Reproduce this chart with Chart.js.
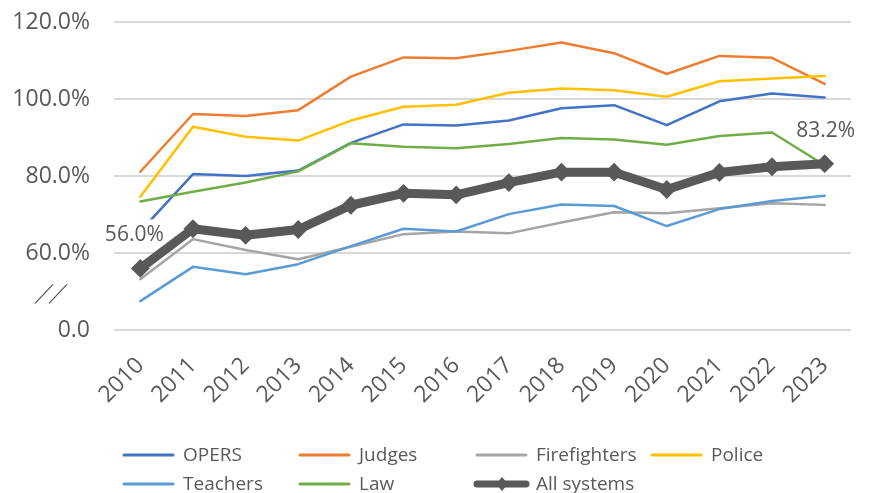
<!DOCTYPE html>
<html>
<head>
<meta charset="utf-8">
<script src="https://cdn.jsdelivr.net/npm/chart.js@4.4.1/dist/chart.umd.min.js"></script>
<style>
html, body { margin: 0; padding: 0; background: #fff; }
</style>
</head>
<body>
<canvas id="myChart" width="869" height="493"></canvas>
<script>
const years = ["2010", "2011", "2012", "2013", "2014", "2015", "2016",
    "2017", "2018", "2019", "2020", "2021", "2022", "2023"];

const opers = [65.6, 80.5, 80.0, 81.4, 88.6, 93.4, 93.1, 94.4, 97.6, 98.4, 93.2, 99.4, 101.4, 100.4];
const judges = [81.1, 96.1, 95.6, 97.1, 105.8, 110.8, 110.6, 112.5, 114.7, 111.9, 106.5, 111.2, 110.7, 103.9];
const firefighters = [53.2, 63.6, 60.8, 58.4, 61.6, 64.9, 65.6, 65.1, 67.9, 70.6, 70.3, 71.6, 72.9, 72.5];
const police = [74.6, 92.8, 90.2, 89.2, 94.4, 98.0, 98.5, 101.6, 102.7, 102.3, 100.6, 104.6, 105.3, 106.0];
const teachers = [47.5, 56.4, 54.5, 57.1, 61.8, 66.3, 65.6, 70.1, 72.6, 72.2, 67.0, 71.4, 73.5, 74.9];
const law = [73.4, 75.9, 78.3, 81.2, 88.5, 87.6, 87.2, 88.3, 89.9, 89.5, 88.1, 90.4, 91.3, 82.8];
const allSystems = [56.0, 66.3, 64.6, 66.1, 72.4, 75.5, 75.1, 78.3, 81.0, 81.0, 76.5, 80.9, 82.4, 83.2];

// the axis is broken: the bottom gridline (40%) is labelled 0.0
const yTicks = [40, 60, 80, 100, 120];
const yTickText = ["0.0", "60.0%", "80.0%", "100.0%", "120.0%"];

const FONT = "'Open Sans', sans-serif";
const TEXT = "#595959";

function line(label, values, color) {
    return {
        label: label,
        data: values,
        borderColor: color,
        backgroundColor: color,
        borderWidth: 2.5,
        pointRadius: 0,
        tension: 0,
        borderJoinStyle: "round",
        borderCapStyle: "round",
    };
}

const datasets = [
    line("OPERS", opers, "#4472C4"),
    line("Judges", judges, "#ED7D31"),
    line("Firefighters", firefighters, "#A5A5A5"),
    line("Police", police, "#FFC000"),
    line("Teachers", teachers, "#5B9BD5"),
    line("Law", law, "#70AD47"),
    {
        label: "All systems",
        data: allSystems,
        borderColor: "#595959",
        backgroundColor: "#595959",
        borderWidth: 9,
        pointStyle: "rectRot",
        pointRadius: 8,
        pointBorderWidth: 2,
        tension: 0,
        borderJoinStyle: "round",
    },
];
// later series on top, like the spreadsheet
datasets.forEach((d, i) => (d.order = -i));

const ALL = 6;
const labelIdx = [0, allSystems.length - 1];
const labelShift = [-6, 1];

function labelBox(chart, k) {
    const pt = chart.getDatasetMeta(ALL).data[labelIdx[k]];
    return { x: pt.x + labelShift[k], y: pt.y - 33 };
}

// value labels for first/last "All systems" points
const endLabels = {
    id: "endLabels",
    beforeDatasetDraw(chart, args) {
        if (args.index !== ALL) return;
        const ctx = chart.ctx;
        ctx.save();
        ctx.font = "21px " + FONT;
        labelIdx.forEach((i, k) => {
            const p = labelBox(chart, k);
            const w = ctx.measureText(allSystems[i].toFixed(1) + "%").width;
            ctx.fillStyle = "#fff";
            ctx.fillRect(p.x - w / 2 - 2, p.y - 16, w + 4, 30);
        });
        ctx.restore();
    },
    afterDatasetsDraw(chart) {
        const ctx = chart.ctx;
        ctx.save();
        ctx.font = "21px " + FONT;
        ctx.fillStyle = TEXT;
        ctx.textAlign = "center";
        ctx.textBaseline = "middle";
        labelIdx.forEach((i, k) => {
            const p = labelBox(chart, k);
            ctx.fillText(allSystems[i].toFixed(1) + "%", p.x, p.y);
        });
        ctx.restore();
    },
};

// axis break "//" and the grid-style legend
const extras = {
    id: "extras",
    afterDraw(chart) {
        const ctx = chart.ctx;
        const left = chart.chartArea.left;
        const yb = chart.scales.y.getPixelForValue(49.5);
        ctx.save();
        ctx.strokeStyle = TEXT;
        ctx.lineWidth = 1.3;
        [-79, -65].forEach((dx) => {
            ctx.beginPath();
            ctx.moveTo(left + dx, yb + 10);
            ctx.lineTo(left + dx + 18, yb - 9);
            ctx.stroke();
        });

        const cols = [124, 300, 477, 652];
        const rows = [455, 484];
        ctx.font = "19px " + FONT;
        ctx.textBaseline = "middle";
        chart.data.datasets.forEach((ds, i) => {
            const x = cols[i % 4];
            const y = rows[Math.floor(i / 4)];
            ctx.strokeStyle = ds.borderColor;
            ctx.lineWidth = i === ALL ? 7 : 3;
            ctx.lineCap = "round";
            ctx.beginPath();
            ctx.moveTo(x, y);
            ctx.lineTo(x + 49, y);
            ctx.stroke();
            if (i === ALL) {
                ctx.fillStyle = ds.borderColor;
                ctx.beginPath();
                ctx.moveTo(x + 25, y - 7);
                ctx.lineTo(x + 31, y);
                ctx.lineTo(x + 25, y + 7);
                ctx.lineTo(x + 19, y);
                ctx.closePath();
                ctx.fill();
            }
            ctx.fillStyle = TEXT;
            ctx.fillText(ds.label, x + 59, y + 1);
        });
        ctx.restore();
    },
};

new Chart(document.getElementById("myChart").getContext("2d"), {
    type: "line",
    data: { labels: years, datasets: datasets },
    options: {
        responsive: false,
        animation: false,
        layout: { padding: { top: 22, right: 18, left: 0, bottom: 0 } },
        plugins: {
            legend: { display: false },
            tooltip: { enabled: false },
        },
        scales: {
            x: {
                offset: true,
                grid: { display: false },
                border: { display: false },
                ticks: {
                    color: TEXT,
                    font: { family: FONT, size: 23 },
                    minRotation: 45,
                    maxRotation: 45,
                    padding: 14,
                    autoSkip: false,
                },
                afterFit: (s) => {
                    s.height = 163;
                    s.paddingLeft = 0;
                    s.paddingRight = 0;
                },
            },
            y: {
                min: 40,
                max: 120,
                afterBuildTicks: (s) => { s.ticks = yTicks.map((v) => ({ value: v })); },
                grid: { color: "#D9D9D9", lineWidth: 2, drawTicks: false },
                border: { display: false },
                ticks: {
                    color: TEXT,
                    font: { family: FONT, size: 23 },
                    padding: 24,
                    callback: (v) => yTickText[yTicks.indexOf(v)],
                },
                afterFit: (s) => {
                    s.width = 114;
                    s.paddingTop = 0;
                    s.paddingBottom = 0;
                },
            },
        },
    },
    plugins: [endLabels, extras],
});
</script>
</body>
</html>
